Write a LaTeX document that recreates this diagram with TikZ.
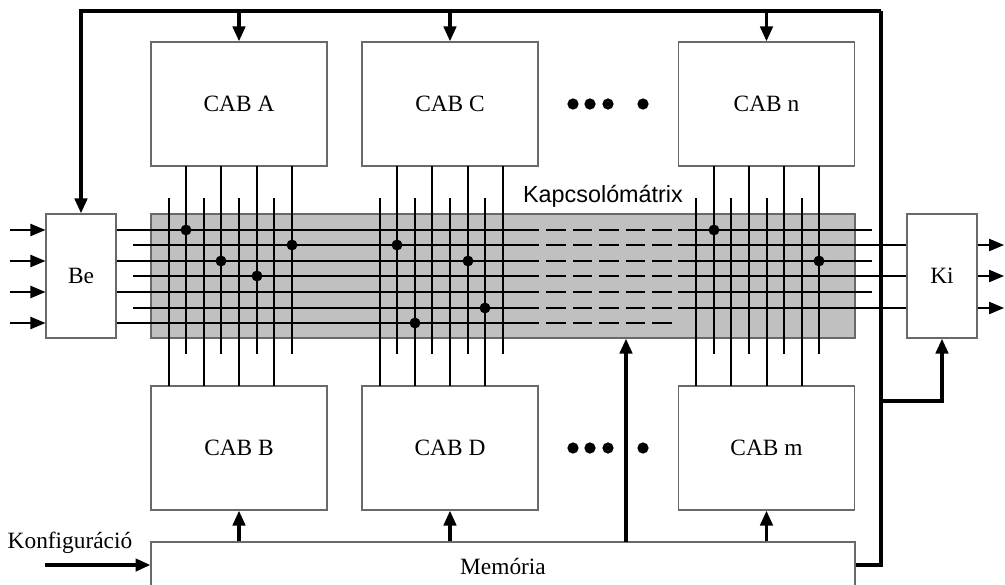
\documentclass[tikz,border=0pt]{standalone}
\usepackage{fontspec}
\setmainfont{Liberation Serif}
\newfontfamily\kmxfont{Liberation Sans}
\usetikzlibrary{arrows.meta}

\begin{document}
\begin{tikzpicture}[x=0.02cm,y=-0.02cm,
  font=\fontsize{13.3}{16}\selectfont,
  block/.style={draw=boxgray,fill=white,line width=0.7pt,inner sep=0pt,
    minimum width=3.52cm,minimum height=2.48cm},
  port/.style={block,minimum width=1.4cm},
  wire/.style={line width=0.7pt},
  bus/.style={line width=2pt},
  tip/.style={-{Triangle[length=8.5pt,width=7pt]}}]
% Define colours
\definecolor{boxgray}{RGB}{105,105,105}
\definecolor{kmxgray}{RGB}{192,192,192}

\useasboundingbox (0,0) rectangle (1005,585);

% Switch matrix background
\node[draw=boxgray,fill=kmxgray,line width=0.7pt,inner sep=0pt,
  minimum width=14.08cm,minimum height=2.48cm] (kmx) at (503,276) {};
\node[font=\kmxfont\fontsize{13.3}{16}\selectfont] (kmxlabel) at (603,196) {Kapcsolómátrix};

% Draw blocks
\node[block] (cabA) at (239,104) {CAB A};
\node[block] (cabC) at (450,104) {CAB C};
\node[block] (cabN) at (766.5,104) {CAB n};
\node[block] (cabB) at (239,448) {CAB B};
\node[block] (cabD) at (450,448) {CAB D};
\node[block] (cabM) at (766.5,448) {CAB m};
\node[port] (be) at (81,276) {Be};
\node[port] (ki) at (942,276) {Ki};
\node[block,minimum width=14.08cm,minimum height=0.96cm] (mem) at (503,566) {Memória};
\node (cfg) at (70,543) {Konfiguráció};

% Horizontal wires of the matrix
\foreach \y in {230,261,292,323}
  \draw[wire] (be.east |- 0,\y) -- (539,\y);
\foreach \y in {245,276,308}
  \draw[wire] (133,\y) -- (539,\y);
\foreach \y in {230,245,261,276,292,308,323}
  \draw[wire,dash pattern=on 11.3pt off 3.8pt] (546,\y) -- (678,\y);
\foreach \y in {230,261,292}
  \draw[wire] (678,\y) -- (872,\y);
\foreach \y in {245,276,308}
  \draw[wire] (678,\y) -- (ki.west |- 0,\y);

% Vertical wires from the blocks
\foreach \x in {186,221,257,292,397,432,468,503,714,749,784,819}
  \draw[wire] (\x,166) -- (\x,354);
\foreach \x in {169,204,239,274,380,415,450,485,696,731,767,802}
  \draw[wire] (\x,198) -- (\x,386);

% Switch points
\foreach \x/\y in {186/230,221/261,257/276,292/245,397/245,468/261,415/323,485/308,714/230,819/261}
  \fill (\x,\y) circle (3.1pt);

% More blocks
\foreach \x in {573,590,608,643} {
  \fill (\x,104) circle (3.2pt);
  \fill (\x,448) circle (3.2pt);
}

% Inputs and outputs
\foreach \y in {230,261,292,323}
  \draw[wire,tip] (10,\y) -- (be.west |- 0,\y);
\foreach \y in {245,276,308}
  \draw[wire,tip] (ki.east |- 0,\y) -- (1004,\y);

% Configuration bus
\coordinate (tl) at (81,11);
\coordinate (tr) at (881,11);
\coordinate (kitap) at (881,401);
\coordinate (mtap) at (626,542);
\coordinate (cfgin) at (45,565);
\draw[bus,tip] (tr) -- (tl) -- (be.north);
\draw[bus] (tr) -- (tr |- 0,565) -- (mem.east |- 0,565);
\draw[bus,tip] (kitap) -| (ki.south);
\foreach \b in {cabA,cabC,cabN}
  \draw[bus,tip] (\b.north |- tl) -- (\b.north);
\foreach \b in {cabB,cabD,cabM}
  \draw[bus,tip] (\b.south |- mem.north) -- (\b.south);
\draw[bus,tip] (mtap) -- (mtap |- kmx.south);
\draw[bus,tip] (cfgin) -- (mem.west |- cfgin);
\end{tikzpicture}
\end{document}
